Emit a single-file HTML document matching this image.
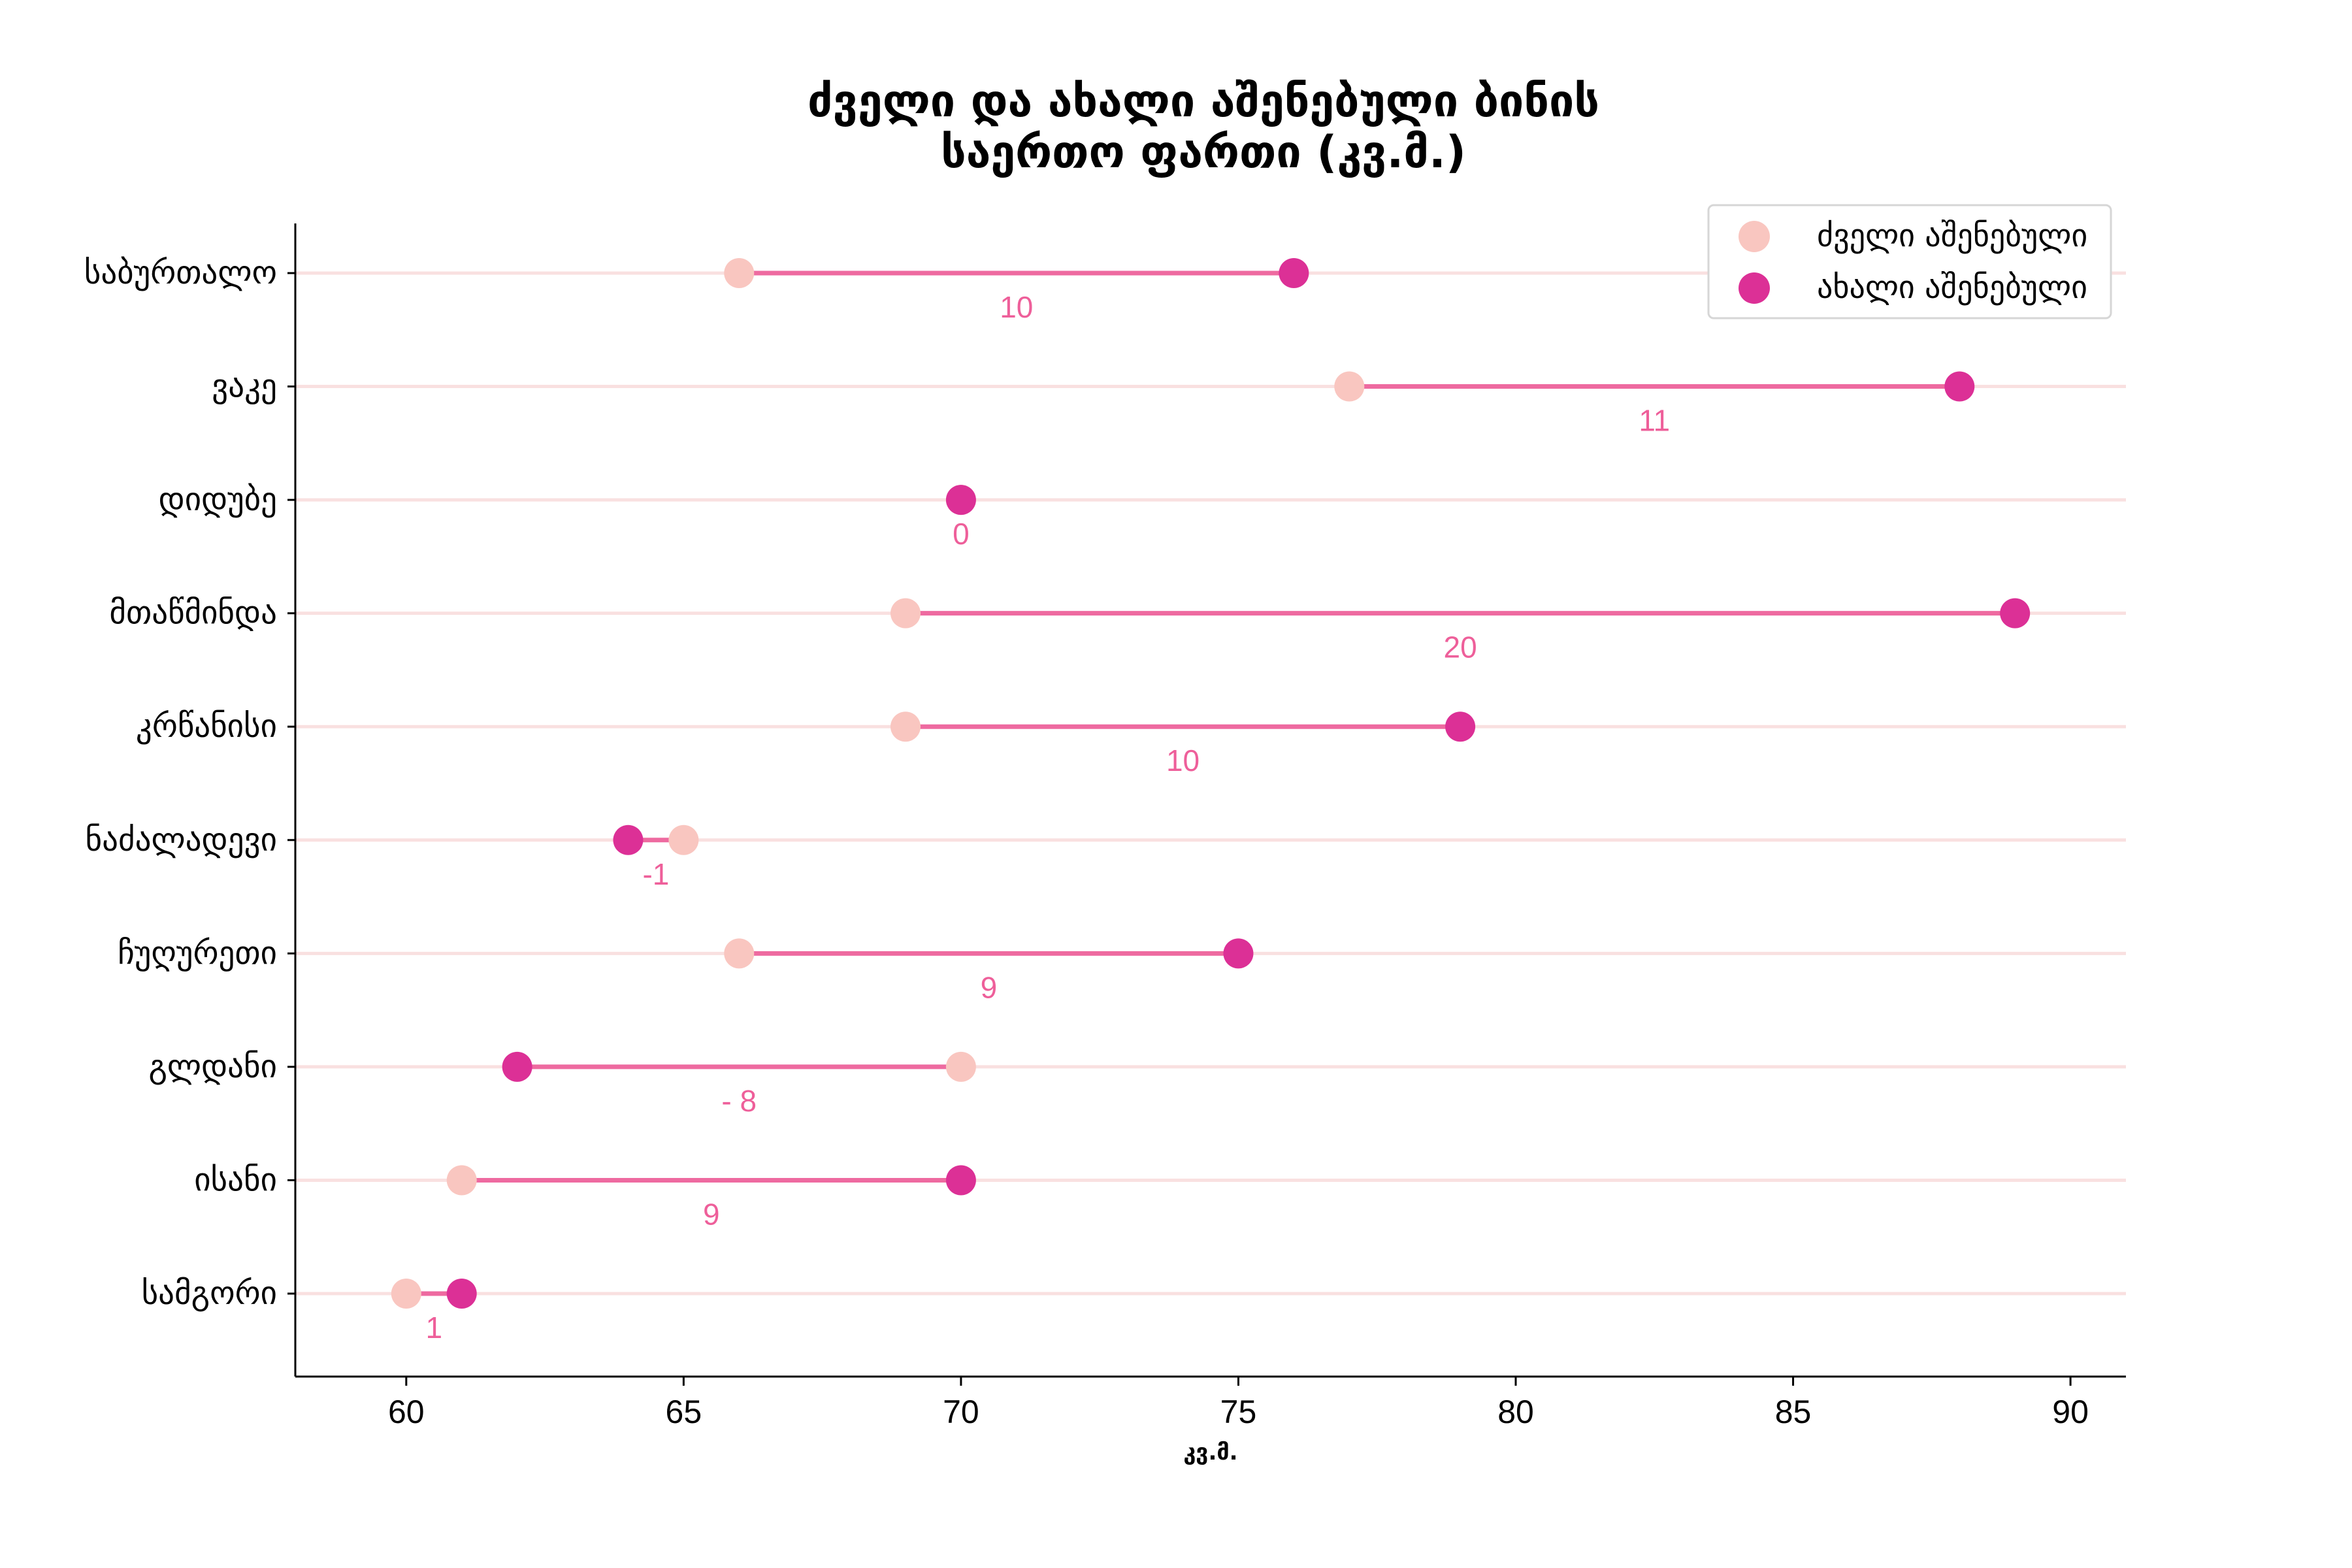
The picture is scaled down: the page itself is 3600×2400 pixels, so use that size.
<!DOCTYPE html>
<html><head><meta charset="utf-8">
<style>
html,body{margin:0;padding:0;background:#fff;}
svg{display:block;font-family:"Liberation Sans","DejaVu Sans",sans-serif;}
</style></head>
<body>
<svg id="chart" width="3600" height="2400" viewBox="0 0 3600 2400" xmlns="http://www.w3.org/2000/svg">
<rect width="3600" height="2400" fill="#fff"/>
<text x="1842" y="178" text-anchor="middle" font-size="68" font-weight="bold" fill="#000" font-family="'DejaVu Sans',sans-serif">ძველი და ახალი აშენებული ბინის</text>
<text x="1842" y="256" text-anchor="middle" font-size="68" font-weight="bold" fill="#000" font-family="'DejaVu Sans',sans-serif">საერთო ფართი (კვ.მ.)</text>
<g id="plot"></g>
<text x="1853" y="2234" text-anchor="middle" font-size="34" font-weight="bold" fill="#000" font-family="'DejaVu Sans',sans-serif">კვ.მ.</text>
<g>
<rect x="2615" y="314" width="616" height="173" rx="8" fill="#fff" stroke="#d6d6d6" stroke-width="3"/>
<circle cx="2685" cy="362" r="24" fill="#f9c6c0"/>
<text x="2781" y="377" font-size="48" fill="#000" font-family="'DejaVu Sans',sans-serif">ძველი აშენებული</text>
<circle cx="2685" cy="441" r="24" fill="#dc3096"/>
<text x="2781" y="456" font-size="48" fill="#000" font-family="'DejaVu Sans',sans-serif">ახალი აშენებული</text>
</g>
</svg>
<script>
const categories = ["საბურთალო","ვაკე","დიდუბე","მთაწმინდა","კრწანისი","ნაძალადევი","ჩუღურეთი","გლდანი","ისანი","სამგორი"];
const oldValues = [66,77,70,69,69,65,66,70,61,60];
const newValues = [76,88,70,89,79,64,75,62,70,61];
const diffLabels = ["10","11","0","20","10","-1","9","- 8","9","1"];
const xTicks = [60,65,70,75,80,85,90];

const NS="http://www.w3.org/2000/svg";
const plot=document.getElementById('plot');
const L=452,R=3254,T=342,B=2107;
const xMin=58,xMax=91;
function xs(v){return L+(v-xMin)/(xMax-xMin)*(R-L);}
const y0=418,y9=1980;
function ys(i){return y0+i*(y9-y0)/(categories.length-1);}
function mk(tag,attrs){const e=document.createElementNS(NS,tag);for(const k in attrs)e.setAttribute(k,attrs[k]);plot.appendChild(e);return e;}

categories.forEach((c,i)=>{
  const y=ys(i);
  const g=mk('line',{x1:L,x2:R,y1:y,y2:y,stroke:'#f9e0e0','stroke-width':5});
  
  
  const tk=mk('line',{x1:L-12,x2:L,y1:y,y2:y,stroke:'#000','stroke-width':3});
  
  
  const t=mk('text',{x:L-28,y:y+16,'text-anchor':'end','font-size':49,fill:'#000','font-family':"'DejaVu Sans',sans-serif"});
  t.textContent=c;
  
  
});
categories.forEach((c,i)=>{
  const y=ys(i);
  const ln=mk('line',{x1:xs(oldValues[i]),x2:xs(newValues[i]),y1:y,y2:y,stroke:'#ee6aa0','stroke-width':7});
  
  
  const o=mk('circle',{cx:xs(oldValues[i]),cy:y,r:23,fill:'#f9c6c0'});
  
  
  const n=mk('circle',{cx:xs(newValues[i]),cy:y,r:23,fill:'#dc3096'});
  
  
  const lb=mk('text',{x:xs((oldValues[i]+newValues[i])/2),y:y+68,'text-anchor':'middle','font-size':46,fill:'#ee5f9a'});
  lb.textContent=diffLabels[i];
  
  
});
const ya=mk('line',{x1:L,x2:L,y1:T,y2:B,stroke:'#000','stroke-width':3});


const xa=mk('line',{x1:L,x2:R,y1:B,y2:B,stroke:'#000','stroke-width':3});


xTicks.forEach(v=>{
  const tk=mk('line',{x1:xs(v),x2:xs(v),y1:B,y2:B+14,stroke:'#000','stroke-width':3});
  
  
  const t=mk('text',{x:xs(v),y:B+71,'text-anchor':'middle','font-size':50,fill:'#000'});
  t.textContent=String(v);
  
  
});
</script>
</body></html>
